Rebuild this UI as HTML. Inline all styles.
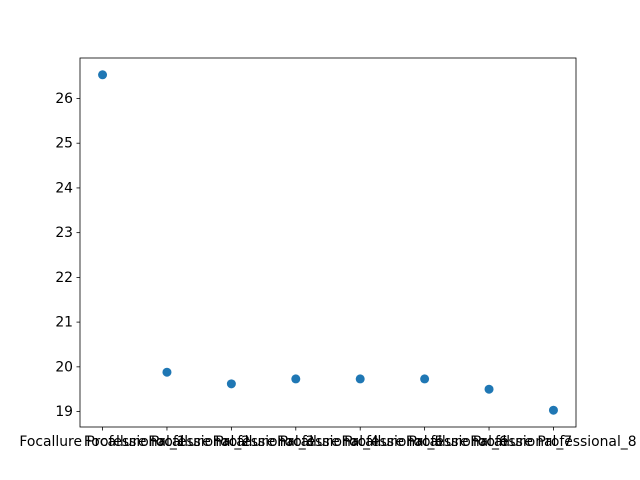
<!DOCTYPE html>
<html><head><meta charset="utf-8"><style>body{margin:0;background:#fff}svg{display:block}text{font-family:"DejaVu Sans","Liberation Sans",sans-serif;font-size:13.9px;fill:#000}</style></head>
<body>
<svg id="chart" width="640" height="480">
<rect x="80" y="58" width="496" height="369" fill="none" stroke="#000" stroke-width="0.8"/>
<g id="xt"></g>
<g id="yt"></g>
<g id="pts"></g>
</svg>
<script>
const categories=["Focallure Professional_1","Focallure Professional_2","Focallure Professional_3","Focallure Professional_4","Focallure Professional_5","Focallure Professional_6","Focallure Professional_7","Focallure Professional_8"];
const values=[26.53,19.88,19.62,19.73,19.73,19.73,19.50,19.03];
const yTicks=[19,20,21,22,23,24,25,26];
const L=80,R=576,T=58,B=427;
const xmin=-0.35,xmax=categories.length-1+0.35;
const vmin=Math.min(...values),vmax=Math.max(...values),pad=(vmax-vmin)*0.05;
const ymin=vmin-pad,ymax=vmax+pad;
const xs=i=>L+(i-xmin)/(xmax-xmin)*(R-L);
const ys=v=>B-(v-ymin)/(ymax-ymin)*(B-T);
const NS="http://www.w3.org/2000/svg";
function mk(t,a,p){const e=document.createElementNS(NS,t);for(const k in a)e.setAttribute(k,a[k]);p.appendChild(e);return e;}
const xt=document.getElementById('xt'),yt=document.getElementById('yt'),pts=document.getElementById('pts');
categories.forEach((c,i)=>{const x=xs(i);
const l=mk('line',{x1:x,x2:x,y1:B,y2:B+3.5,stroke:'#000','stroke-width':0.8},xt);


const t=mk('text',{x:x,y:B+19,'text-anchor':'middle'},xt);t.textContent=c;


});
yTicks.forEach(v=>{const y=ys(v);
const l=mk('line',{x1:L-3.5,x2:L,y1:y,y2:y,stroke:'#000','stroke-width':0.8},yt);


const t=mk('text',{x:L-7,y:y+4.5,'text-anchor':'end'},yt);t.textContent=v;


});
values.forEach((v,i)=>{const c=mk('circle',{cx:xs(i),cy:ys(v),r:4.5,fill:'#1f77b4'},pts);


});
</script>
</body></html>
